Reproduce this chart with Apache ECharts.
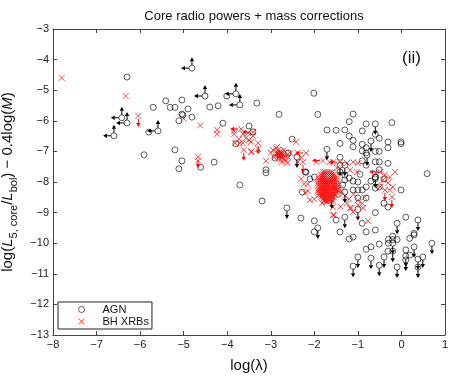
<!DOCTYPE html>
<html>
<head>
<meta charset="utf-8">
<script src="https://cdn.jsdelivr.net/npm/echarts@6/dist/echarts.min.js"></script>
<style>
  html, body { margin: 0; padding: 0; background: #fff; }
  #chart { width: 458px; height: 379px; }
</style>
</head>
<body>
<div id="chart"></div>
<script>
// axis ranges / ticks
var xRange = [-8, 1];
var yRange = [-13, -3];

// AGN points, [log(lambda), log(L5core/Lbol) - 0.4 log M]
var agnPoints = [
  [-6.30,-4.57],[-5.70,-5.56],[-5.41,-5.35],[-5.31,-5.56],[-5.20,-5.56],[-5.11,-6.00],[-5.04,-5.32],
  [-5.04,-5.78],[-5.80,-6.37],[-5.91,-7.11],[-5.20,-6.95],[-5.04,-7.31],[-5.11,-7.57],[-4.90,-5.61],
  [-5.02,-5.81],[-4.81,-5.88],[-4.40,-5.55],[-4.21,-5.51],[-4.10,-6.08],[-4.01,-5.19],[-3.32,-5.42],
  [-2.81,-5.79],[-4.61,-7.52],[-4.30,-7.35],[-3.50,-6.17],[-3.41,-6.36],[-3.80,-6.75],[-3.11,-7.60],
  [-3.11,-7.70],[-2.90,-7.22],[-2.51,-6.60],[-2.60,-7.05],[-2.19,-7.68],[-3.71,-8.10],[-3.20,-8.62],
  [-2.31,-9.18],[-2.21,-7.67],[-2.00,-7.84],[-2.10,-7.90],[-2.28,-8.33],[-2.01,-5.10],[-1.92,-5.79],
  [-1.11,-5.78],[-1.20,-6.03],[-0.22,-6.06],[-0.81,-6.10],[-1.71,-6.30],[-1.50,-6.31],[-1.30,-6.30],
  [-0.90,-6.33],[-0.60,-6.44],[-1.20,-6.50],[-0.51,-6.57],[-1.11,-6.64],[-1.41,-6.74],[-0.90,-6.77],
  [-0.81,-6.88],[-0.31,-6.69],[-0.01,-6.69],[-0.01,-6.75],[-0.31,-6.88],[-1.11,-6.85],[-0.90,-6.98],
  [-1.41,-7.19],[-0.90,-7.31],[-0.81,-7.05],[-0.60,-7.00],[-0.51,-7.00],[-0.60,-7.34],[-0.51,-7.34],
  [-0.31,-7.39],[-0.81,-7.45],[-0.51,-7.60],[0.59,-7.73],[-0.01,-8.26],[-1.11,-7.97],[-1.00,-8.00],
  [-1.11,-8.26],[-1.00,-8.26],[-1.30,-7.77],[-1.30,-7.93],[-1.41,-7.67],[-1.20,-7.87],[-0.81,-8.16],
  [-0.60,-7.84],[-0.60,-7.90],[-0.60,-8.20],[-0.51,-8.16],[-0.40,-7.90],[-0.70,-7.97],[-0.90,-8.26],
  [-0.81,-8.52],[-1.00,-8.52],[-2.00,-9.27],[-2.00,-9.63],[-1.50,-9.24],[-0.90,-9.35],[-1.41,-9.63],
  [-1.20,-9.86],[-1.11,-9.80],[-0.81,-9.63],[-0.60,-9.57],[-0.40,-8.69],[-0.31,-8.82],[-0.60,-9.00],
  [0.10,-9.15],[0.29,-9.73],[0.29,-9.68],[0.19,-9.84],[-0.20,-9.77],[-0.20,-9.88],[-0.30,-9.88],
  [-0.30,-10.00],[-0.10,-9.88],[-0.51,-10.03],[-0.70,-10.12],[-0.81,-10.20],[-0.31,-10.26],
  [0.10,-10.22],[0.19,-10.39],[-2.80,-7.10],[-1.35,-8.10],[-1.45,-8.40],[-0.95,-7.75]
];
// AGN upper limits (down arrows)
var agnDown = [
  [-2.40,-7.18],[-2.63,-8.85],[-1.71,-6.93],[-0.60,-6.10],[-0.70,-6.66],[-1.92,-9.50],[-1.30,-9.15],
  [-0.10,-9.35],[0.38,-9.24],[0.70,-10.00],[-0.20,-10.00],[-0.20,-10.26],[0.29,-10.12],[-1.00,-10.45],
  [-0.70,-10.49],[-0.40,-10.45],[0.10,-10.42],[0.10,-10.55],[0.38,-10.52],[0.38,-10.78],[0.49,-10.45],
  [-1.11,-10.75],[-0.51,-10.72],[-0.10,-10.78],[-1.60,-8.52],[-1.30,-8.33],[-1.30,-7.45],[-1.41,-7.45],
  [-1.00,-8.90],[-0.79,-7.12],[-0.60,-7.84]
];
// AGN limits in both directions (left + up arrows)
var agnLeftUp = [
  [-6.42,-5.90],[-6.30,-6.07],[-6.60,-6.49],[-4.81,-4.28],[-4.51,-5.19],[-3.80,-5.12],[-3.71,-5.48],
  [-5.59,-6.33]
];

// BH XRB points
var xrbPoints = [
  [-7.80,-4.60],[-6.33,-5.19],[-6.04,-5.84],[-5.00,-5.93],[-4.62,-6.15],[-4.23,-6.30],[-4.23,-6.43],
  [-4.67,-7.18],[-4.67,-7.30],
  [-3.84,-6.33],[-3.68,-6.27],[-3.84,-6.43],[-3.64,-6.43],[-3.52,-6.40],[-3.41,-6.37],[-3.41,-6.50],
  [-3.73,-6.60],[-3.82,-6.73],[-3.64,-6.73],[-3.45,-6.69],[-3.29,-6.73],[-3.62,-6.95],[-3.45,-7.02],
  [-3.29,-6.92],[-3.57,-6.57],[-3.50,-6.63],[-3.71,-6.73],[-3.44,-7.00],
  [-2.95,-6.95],[-2.88,-6.90],[-2.83,-6.95],[-2.78,-7.00],[-2.75,-7.05],[-2.80,-7.10],[-2.85,-7.05],
  [-2.90,-7.10],[-2.72,-7.12],[-2.68,-7.15],[-2.75,-7.20],[-2.82,-7.18],[-2.70,-7.25],[-2.62,-7.10],
  [-2.60,-7.20],[-2.65,-7.30],[-2.78,-7.28],[-3.00,-7.05],[-2.92,-7.20],[-2.55,-7.05],[-2.85,-6.85],
  [-2.70,-6.95],[-3.11,-7.31],[-2.42,-6.69],[-2.62,-7.38],[-2.75,-7.35],[-2.80,-7.05],[-2.77,-7.12],
  [-2.83,-7.12],[-2.74,-7.08],[-2.79,-7.15],
  [-2.38,-7.05],[-2.19,-7.05],[-2.38,-7.35],[-2.26,-7.35],[-2.30,-7.20],
  [-2.24,-8.07],[-2.15,-8.07],[-2.15,-8.30],[-2.21,-8.36],[-2.10,-8.59],[-2.00,-8.56],[-2.30,-7.90],
  [-1.82,-8.69],[-1.71,-8.65],[-1.57,-8.82],[-1.57,-9.08],[-1.55,-9.08],
  // dense core of the XRB cloud
  [-1.80,-7.68],[-1.75,-7.68],[-1.70,-7.68],[-1.65,-7.68],[-1.60,-7.68],
  [-1.85,-7.75],[-1.80,-7.75],[-1.75,-7.75],[-1.70,-7.75],[-1.65,-7.75],[-1.60,-7.75],[-1.55,-7.75],
  [-1.85,-7.82],[-1.80,-7.82],[-1.75,-7.82],[-1.70,-7.82],[-1.65,-7.82],[-1.60,-7.82],[-1.55,-7.82],[-1.50,-7.82],
  [-1.90,-7.90],[-1.85,-7.90],[-1.80,-7.90],[-1.75,-7.90],[-1.70,-7.90],[-1.65,-7.90],[-1.60,-7.90],[-1.55,-7.90],[-1.50,-7.90],
  [-1.90,-7.97],[-1.85,-7.97],[-1.80,-7.97],[-1.75,-7.97],[-1.70,-7.97],[-1.65,-7.97],[-1.60,-7.97],[-1.55,-7.97],[-1.47,-7.97],
  [-1.92,-8.05],[-1.87,-8.05],[-1.82,-8.05],[-1.77,-8.05],[-1.72,-8.05],[-1.67,-8.05],[-1.62,-8.05],[-1.57,-8.05],[-1.52,-8.05],[-1.45,-8.05],
  [-1.90,-8.12],[-1.85,-8.12],[-1.80,-8.12],[-1.75,-8.12],[-1.70,-8.12],[-1.65,-8.12],[-1.60,-8.12],[-1.55,-8.12],[-1.50,-8.12],[-1.45,-8.12],
  [-1.90,-8.20],[-1.85,-8.20],[-1.80,-8.20],[-1.75,-8.20],[-1.70,-8.20],[-1.65,-8.20],[-1.60,-8.20],[-1.55,-8.20],[-1.50,-8.20],[-1.44,-8.20],
  [-1.92,-8.28],[-1.87,-8.28],[-1.82,-8.28],[-1.77,-8.28],[-1.72,-8.28],[-1.67,-8.28],[-1.62,-8.28],[-1.57,-8.28],[-1.52,-8.28],[-1.46,-8.28],
  [-1.90,-8.35],[-1.85,-8.35],[-1.80,-8.35],[-1.75,-8.35],[-1.70,-8.35],[-1.65,-8.35],[-1.60,-8.35],[-1.55,-8.35],[-1.48,-8.35],
  [-1.90,-8.43],[-1.85,-8.43],[-1.80,-8.43],[-1.75,-8.43],[-1.70,-8.43],[-1.65,-8.43],[-1.60,-8.43],[-1.52,-8.43],
  [-1.85,-8.50],[-1.80,-8.50],[-1.75,-8.50],[-1.70,-8.50],[-1.65,-8.50],[-1.60,-8.50],[-1.55,-8.50],
  [-1.80,-8.56],[-1.75,-8.56],[-1.70,-8.56],[-1.65,-8.56],[-1.60,-8.56],
  [-1.78,-8.62],[-1.73,-8.62],[-1.68,-8.62],[-1.63,-8.62],[-1.58,-8.62],
  [-1.95,-7.35],[-1.80,-7.30],[-1.65,-7.35],[-1.57,-7.35],[-1.41,-7.35],[-1.25,-7.38],[-1.11,-7.35],
  [-1.00,-7.38],[-1.48,-7.54],[-1.18,-7.61],[-1.02,-7.67],
  [-1.38,-8.30],[-1.30,-8.45],[-1.20,-8.55],[-1.10,-8.40],[-1.00,-8.60],[-0.90,-8.70],[-1.25,-8.70],
  [-1.40,-8.80],[-1.15,-8.85],[-0.85,-8.50],[-1.18,-8.85],[-1.11,-8.98],[-1.00,-8.75],[-0.88,-8.85],
  [-0.77,-9.27],
  [-0.58,-7.71],[-0.49,-7.67],[-0.38,-7.77],[-0.27,-7.84],[-0.15,-7.67],[-0.42,-7.93],[-0.31,-8.03],
  [-0.20,-8.16],[-0.49,-8.16],[-0.27,-8.26],[-0.38,-8.26],[-0.22,-8.49]
];
var xrbDown = [
  [-6.04,-5.84],[-4.67,-7.18],[-3.62,-6.95],[-3.29,-6.73],[-2.26,-7.35],[-0.22,-8.49],[-0.38,-8.26]
];
var xrbLeft = [
  [-3.68,-6.27],[-3.41,-6.37],[-2.19,-7.05],[-1.80,-7.30],[-1.41,-7.35],[-0.49,-7.67]
];

var font = 'Liberation Sans, Arial, Helvetica, sans-serif';
var DOWN = 0, LEFT = 1, UP = 2;

function arrowItem(color) {
  return function (params, api) {
    var p = api.coord([api.value(0), api.value(1)]);
    var dir = api.value(2);
    var dx = 0, dy = 0;
    if (dir === DOWN) dy = 1;
    else if (dir === LEFT) dx = -1;
    else dy = -1;
    var L = 11, h = 4, w = 2.2;
    var tx = p[0] + dx * L, ty = p[1] + dy * L;
    var bx = tx - dx * h, by = ty - dy * h;
    return {
      type: 'group',
      children: [
        { type: 'line', shape: { x1: p[0] + dx * 3, y1: p[1] + dy * 3, x2: bx, y2: by },
          style: { stroke: color, lineWidth: 1 } },
        { type: 'polygon',
          shape: { points: [[tx, ty], [bx + dy * w, by + dx * w], [bx - dy * w, by - dx * w]] },
          style: { fill: color } }
      ]
    };
  };
}

var agnArrows = agnDown.map(function (p) { return [p[0], p[1], DOWN]; })
  .concat(agnLeftUp.map(function (p) { return [p[0], p[1], LEFT]; }))
  .concat(agnLeftUp.map(function (p) { return [p[0], p[1], UP]; }));
var xrbArrows = xrbDown.map(function (p) { return [p[0], p[1], DOWN]; })
  .concat(xrbLeft.map(function (p) { return [p[0], p[1], LEFT]; }));

function minusFmt(v) { return String(v).replace('-', '\u2212'); }

var axisLine = { show: true, onZero: false, lineStyle: { color: '#444', width: 1 } };
var tickIn = { show: true, inside: true, length: 4, lineStyle: { color: '#444' } };
var labelStyle = { color: '#222', fontSize: 11, fontFamily: font, formatter: minusFmt };

var chart = echarts.init(document.getElementById('chart'));
var option = {
  animation: false,
  title: {
    text: 'Core radio powers + mass corrections',
    left: 249, top: 5, textAlign: 'center',
    textStyle: { fontSize: 13, fontWeight: 'normal', color: '#111', fontFamily: font }
  },
  grid: { left: 53, right: 13, top: 29, bottom: 44, containLabel: false, outerBoundsMode: 'none' },
  legend: {
    left: 58, top: 302, orient: 'vertical',
    padding: [2, 3, 2, 18], itemGap: 1,
    itemWidth: 6, itemHeight: 6,
    borderColor: '#222', borderWidth: 1, borderRadius: 0,
    textStyle: { fontSize: 11, fontFamily: font, color: '#111', padding: [0, 0, 0, 13] },
    data: [
      { name: 'AGN', itemStyle: { borderWidth: 0.8 } },
      { name: 'BH XRBs', itemStyle: { borderWidth: 0.9 } }
    ]
  },
  xAxis: [{
    type: 'value', min: xRange[0], max: xRange[1], interval: 1,
    name: 'log(\u03bb)', nameLocation: 'middle', nameGap: 23,
    nameTextStyle: { fontSize: 15, fontFamily: font, color: '#111' },
    axisLine: axisLine, axisTick: tickIn, splitLine: { show: false },
    axisLabel: Object.assign({ margin: 4 }, labelStyle)
  }, {
    type: 'value', position: 'top', min: xRange[0], max: xRange[1], interval: 1,
    axisLine: axisLine, axisTick: tickIn, splitLine: { show: false }, axisLabel: { show: false }
  }],
  yAxis: [{
    type: 'value', min: yRange[0], max: yRange[1], interval: 1,
    name: '{t|log(}{i|L}{s|5, core}{t|/}{i|L}{s|bol}{t|) \u2212 0.4log(}{i|M}{t|)}',
    nameLocation: 'middle', nameGap: 31, nameRotate: 90,
    nameTextStyle: {
      color: '#111', fontFamily: font,
      rich: {
        t: { fontSize: 15, lineHeight: 23, fontFamily: font, color: '#111' },
        i: { fontSize: 15, lineHeight: 23, fontStyle: 'italic', fontFamily: font, color: '#111' },
        s: { fontSize: 11, lineHeight: 23, verticalAlign: 'bottom', fontFamily: font, color: '#111' }
      }
    },
    axisLine: axisLine, axisTick: tickIn, splitLine: { show: false },
    axisLabel: Object.assign({ margin: 4 }, labelStyle)
  }, {
    type: 'value', position: 'right', min: yRange[0], max: yRange[1], interval: 1,
    axisLine: axisLine, axisTick: tickIn, splitLine: { show: false }, axisLabel: { show: false }
  }],
  graphic: [{
    type: 'text', left: 402, top: 50,
    style: { text: '(ii)', fontSize: 17, fontFamily: font, fill: '#111' }
  }],
  series: [
    {
      name: 'AGN', type: 'scatter', symbol: 'circle', symbolSize: 6,
      itemStyle: { color: 'transparent', borderColor: '#000', borderWidth: 0.8 },
      data: agnPoints.concat(agnDown, agnLeftUp), z: 3
    },
    {
      name: 'BH XRBs', type: 'scatter',
      symbol: 'path://M0,0L10,10M10,0L0,10', symbolSize: 6,
      itemStyle: { color: 'none', borderColor: '#ff0000', borderWidth: 0.9 },
      data: xrbPoints, z: 4
    },
    { type: 'custom', renderItem: arrowItem('#000'), data: agnArrows, silent: true, z: 5 },
    { type: 'custom', renderItem: arrowItem('#ff0000'), data: xrbArrows, silent: true, z: 5 }
  ]
};
chart.setOption(option);
</script>
</body>
</html>
